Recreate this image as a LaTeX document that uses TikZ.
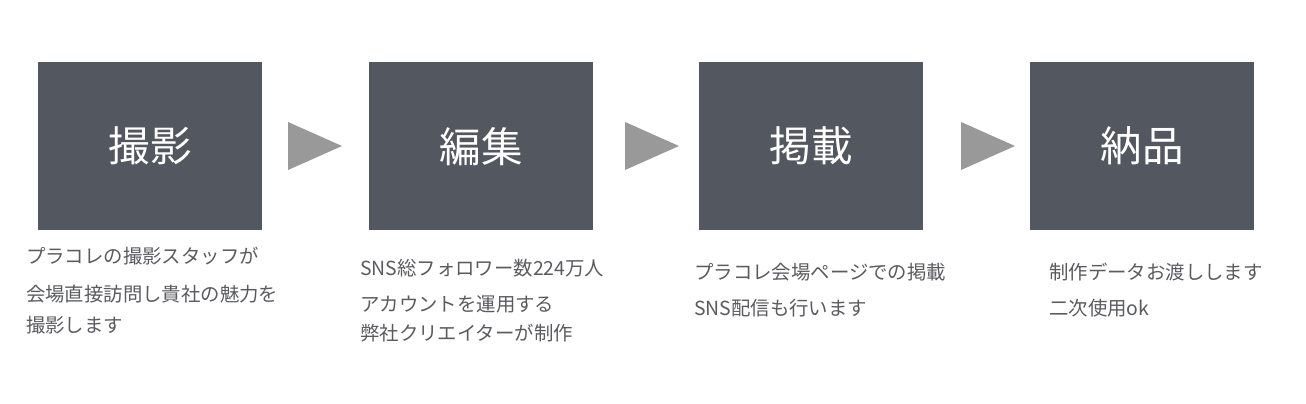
\documentclass[tikz,border=0pt]{standalone}
\usepackage{fontspec}
\newfontfamily\jp{Noto Sans CJK JP}
\definecolor{boxgray}{HTML}{53575F}
\definecolor{arrgray}{HTML}{999999}
\definecolor{txtgray}{HTML}{5A5B5F}
\begin{document}
\begin{tikzpicture}[x=1pt,y=-1pt,
  stepbox/.style={fill=boxgray,draw=none,minimum width=224pt,minimum height=168pt,inner sep=0pt,anchor=north west,text=white,font=\jp\fontsize{41.5}{48}\selectfont},
  desc/.style={anchor=west,inner sep=0pt,text=txtgray,font=\jp\fontsize{19.4}{22}\selectfont},
  tri/.style={fill=arrgray,draw=none}]
\useasboundingbox (0,0) rectangle (1306,404);
\node[stepbox] (b1) at (38,62) {撮影};
\node[stepbox] (b2) at (369,62) {編集};
\node[stepbox] (b3) at (699,62) {掲載};
\node[stepbox] (b4) at (1030,62) {納品};
\fill[tri] (288,122) -- (342,146) -- (288,170) -- cycle;
\fill[tri] (625,122) -- (679,146) -- (625,170) -- cycle;
\fill[tri] (961,122) -- (1015,146) -- (961,170) -- cycle;
\node[desc] (t11) at (26,256) {プラコレの撮影スタッフが};
\node[desc] (t12) at (26,294) {会場直接訪問し貴社の魅力を};
\node[desc] (t13) at (26,325) {撮影します};
\node[desc] (t21) at (360,268) {SNS総フォロワー数224万人};
\node[desc] (t22) at (360,304) {アカウントを運用する};
\node[desc] (t23) at (360,333) {弊社クリエイターが制作};
\node[desc] (t31) at (694,272) {プラコレ会場ページでの掲載};
\node[desc] (t32) at (694,308) {SNS配信も行います};
\node[desc] (t41) at (1049,272) {制作データお渡しします};
\node[desc] (t42) at (1049,308) {二次使用ok};
\end{tikzpicture}
\end{document}
